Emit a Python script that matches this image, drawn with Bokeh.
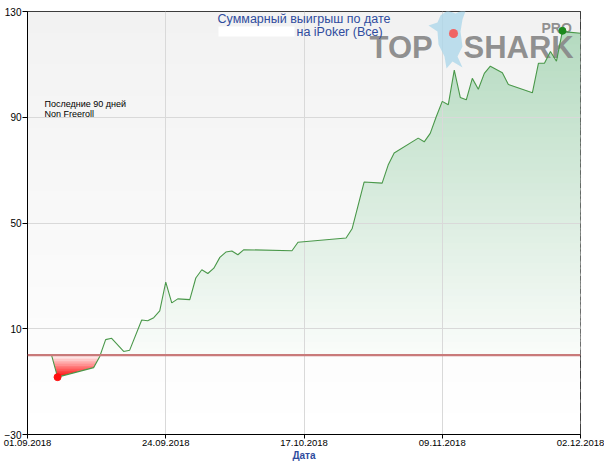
import numpy as np
from bokeh.plotting import figure
from bokeh.models import (Range1d, FixedTicker, DatetimeTickFormatter, Span, Label,
                          BoxAnnotation, PolyAnnotation)
from bokeh.embed import file_html
from bokeh.resources import INLINE

# ---------------- data ----------------
dates = ["2018-09-03", "2018-09-05", "2018-09-06", "2018-09-12", "2018-09-13",
         "2018-09-14", "2018-09-15", "2018-09-17", "2018-09-18", "2018-09-20",
         "2018-09-21", "2018-09-22", "2018-09-23", "2018-09-24", "2018-09-25",
         "2018-09-26", "2018-09-28", "2018-09-29", "2018-09-30", "2018-10-01",
         "2018-10-02", "2018-10-03", "2018-10-04", "2018-10-05", "2018-10-06",
         "2018-10-07", "2018-10-15", "2018-10-16", "2018-10-24", "2018-10-25",
         "2018-10-27", "2018-10-30", "2018-10-31", "2018-11-01", "2018-11-05",
         "2018-11-06", "2018-11-07", "2018-11-08", "2018-11-09", "2018-11-10",
         "2018-11-11", "2018-11-12", "2018-11-13", "2018-11-14", "2018-11-15",
         "2018-11-16", "2018-11-17", "2018-11-19", "2018-11-20", "2018-11-24",
         "2018-11-25", "2018-11-26", "2018-11-27", "2018-11-28", "2018-11-29",
         "2018-11-30", "2018-12-02"]
winnings = [0.0, 0.0, -8.3, -4.7, -0.6,
            5.9, 6.4, 1.4, 1.9, 13.3,
            13.0, 14.2, 16.8, 27.6, 19.8,
            21.3, 21.0, 29.2, 32.3, 30.9,
            32.9, 37.0, 39.0, 39.4, 38.0,
            39.9, 39.5, 42.7, 44.3, 47.8,
            65.5, 65.1, 71.9, 76.5, 82.1,
            80.7, 83.9, 90.2, 96.0, 94.7,
            107.8, 97.5, 96.6, 104.7, 100.6,
            106.6, 109.3, 106.8, 102.4, 99.3,
            110.4, 110.4, 114.9, 111.2, 122.7,
            122.2, 121.8]
x_tick_dates = ["2018-09-01", "2018-09-24", "2018-10-17", "2018-11-09", "2018-12-02"]
y_ticks = [-30, 10, 50, 90, 130]
title_line1 = "Суммарный выигрыш по дате"
title_line2 = "на iPoker (Все)"
note_lines = ["Последние 90 дней", "Non Freeroll"]
x_title = "Дата"


def ms(d):
    return float(np.datetime64(d, "ms").astype("int64"))


xs = np.array([ms(d) for d in dates])
ys = np.array(winnings, dtype=float)
tick_ms = [ms(d) for d in x_tick_dates]
x0, x1 = tick_ms[0], tick_ms[-1]
y0, y1 = y_ticks[0], y_ticks[-1]

FONT = "Liberation Sans"
BLUE = "#2f4c9e"

p = figure(width=604, height=464, output_backend="svg", toolbar_location=None,
           x_axis_type="datetime", x_range=Range1d(x0, x1), y_range=Range1d(y0, y1),
           min_border_left=27, min_border_right=24, min_border_top=11, min_border_bottom=30)
p.background_fill_color = "white"
p.border_fill_color = "white"
p.outline_line_color = "black"
p.outline_line_width = 1


def lerp(c0, c1, t):
    t = min(max(t, 0.0), 1.0)
    return "#%02x%02x%02x" % tuple(int(round(a + (b - a) * t)) for a, b in zip(c0, c1))


# background gradient
bg_levels = np.linspace(y0, y1, 41)
step = bg_levels[1] - bg_levels[0]
for a, b in zip(bg_levels[:-1], bg_levels[1:]):
    t = ((a + b) / 2 - y0) / (y1 - y0)
    p.quad(left=[x0], right=[x1], bottom=[a], top=[min(b + step * 0.3, y1)],
           fill_color=lerp((255, 255, 255), (242, 242, 242), t), line_color=None, level="image")


def refine(xv, yv, levels):
    rx, ry = [xv[0]], [yv[0]]
    for i in range(len(xv) - 1):
        xa, ya, xb, yb = xv[i], yv[i], xv[i + 1], yv[i + 1]
        ts = []
        for L in levels:
            if (ya - L) * (yb - L) < 0:
                ts.append((L - ya) / (yb - ya))
        for t in sorted(ts):
            rx.append(xa + t * (xb - xa))
            ry.append(ya + t * (yb - ya))
        rx.append(xb)
        ry.append(yb)
    return np.array(rx), np.array(ry)


# green gradient area (above zero)
g_levels = np.linspace(0, y1, 53)
r_levels = np.linspace(ys.min(), 0, 14)
rx, ry = refine(xs, ys, list(g_levels) + list(r_levels))
gstep = g_levels[1] - g_levels[0]
for a, b in zip(g_levels[:-1], g_levels[1:]):
    t = ((a + b) / 2) / y1
    top = np.clip(ry, a, b + gstep * 0.3)
    p.varea(x=rx, y1=np.full_like(rx, a), y2=top,
            fill_color=lerp((250, 252, 250), (176, 216, 188), t), level="image")

# red gradient area (below zero)
rstep = r_levels[1] - r_levels[0]
for a, b in zip(r_levels[:-1], r_levels[1:]):
    t = ((a + b) / 2 - r_levels[0]) / (0 - r_levels[0])
    bot = np.clip(ry, a - (rstep * 0.3 if a > r_levels[0] else 0), b)
    p.varea(x=rx, y1=bot, y2=np.full_like(rx, b),
            fill_color=lerp((255, 0, 0), (255, 246, 246), t), level="image")

# grid & axes
p.xaxis.ticker = FixedTicker(ticks=tick_ms)
p.yaxis.ticker = FixedTicker(ticks=y_ticks)
fmt = "%d.%m.%Y"
p.xaxis.formatter = DatetimeTickFormatter(milliseconds=fmt, seconds=fmt, minsec=fmt, minutes=fmt,
                                          hourmin=fmt, hours=fmt, days=fmt, months=fmt, years=fmt)
for ax in (p.xaxis, p.yaxis):
    ax.axis_line_color = "black"
    ax.major_tick_line_color = "black"
    ax.minor_tick_line_color = None
    ax.major_tick_in = 0
    ax.major_tick_out = 5
    ax.major_label_text_font = FONT
    ax.major_label_text_color = "black"
p.xaxis.major_tick_out = 4
p.xaxis.major_label_text_font_size = "9.5px"
p.yaxis.major_label_text_font_size = "10px"
p.xaxis.major_label_standoff = 1
p.yaxis.major_label_standoff = 1
p.xaxis.axis_label = x_title
p.xaxis.axis_label_standoff = 1
p.xaxis.axis_label_text_font = FONT
p.xaxis.axis_label_text_font_size = "10px"
p.xaxis.axis_label_text_font_style = "bold"
p.xaxis.axis_label_text_color = BLUE
p.xgrid.grid_line_color = "#d9d9d9"
p.ygrid.grid_line_color = "#d9d9d9"

# line and extreme points
p.line(xs, ys, line_color="#4a984a", line_width=1.1)
imin, imax = int(np.argmin(ys)), int(np.argmax(ys))
p.scatter([xs[imin]], [ys[imin]], size=7, fill_color="#ff1010", line_color="#ff1010")
p.scatter([xs[imax]], [ys[imax]], size=7, fill_color="#1c8a1c", line_color="#1c8a1c")

p.add_layout(Span(location=0, dimension="width", line_color="#c97a7a", line_width=2.2))

# ----- texts / decorations (positions relative to the frame) -----
FL, FB = 27, 434


def sx(px):
    return px - FL


def sy(py):
    return FB - py


# logo watermark
shark = [(440, 15), (447, 10), (455, 13), (466, 8), (462, 19), (460, 31), (462, 46), (457, 56),
         (462, 67), (452, 61), (446, 68), (444, 56), (438, 44), (437, 31), (428, 25), (437, 22)]
p.add_layout(PolyAnnotation(xs=[sx(a) for a, _ in shark], ys=[sy(b) for _, b in shark],
                            xs_units="screen", ys_units="screen", fill_color="#a9d6ea",
                            fill_alpha=0.75, line_color=None, level="underlay"))
ang = np.linspace(0, 2 * np.pi, 16, endpoint=False)
p.add_layout(PolyAnnotation(xs=list(sx(453) + 4.5 * np.cos(ang)), ys=list(sy(33) + 4.5 * np.sin(ang)),
                            xs_units="screen", ys_units="screen", fill_color="#f06464",
                            fill_alpha=1, line_color=None, level="underlay"))
for txt, px, py, size in [("TOP", 369, 46.5, "31px"), ("SHARK", 463, 46.5, "31px"), ("PRO", 541, 27, "14px")]:
    p.add_layout(Label(x=sx(px), y=sy(py), x_units="screen", y_units="screen", text=txt,
                       text_font=FONT, text_font_size=size, text_font_style="bold",
                       text_color="#8a8a8a", text_alpha=0.95, text_align="left",
                       text_baseline="middle", level="underlay"))

# title
p.add_layout(Label(x=sx(303.5), y=sy(18), x_units="screen", y_units="screen", text=title_line1,
                   text_font=FONT, text_font_size="12.5px", text_color=BLUE,
                   text_align="center", text_baseline="middle"))
p.add_layout(BoxAnnotation(left=sx(218), right=sx(294), top=sy(26), bottom=sy(36),
                           left_units="screen", right_units="screen", top_units="screen",
                           bottom_units="screen", fill_color="white", fill_alpha=1, line_color=None))
p.add_layout(Label(x=sx(296), y=sy(31), x_units="screen", y_units="screen", text=title_line2,
                   text_font=FONT, text_font_size="12.5px", text_color=BLUE,
                   text_align="left", text_baseline="middle"))

# note
for i, txt in enumerate(note_lines):
    p.add_layout(Label(x=sx(44), y=sy(103 + 10 * i), x_units="screen", y_units="screen", text=txt,
                       text_font=FONT, text_font_size="9px", text_color="black",
                       text_align="left", text_baseline="middle"))

open("out.html", "w").write(file_html(p, INLINE))
